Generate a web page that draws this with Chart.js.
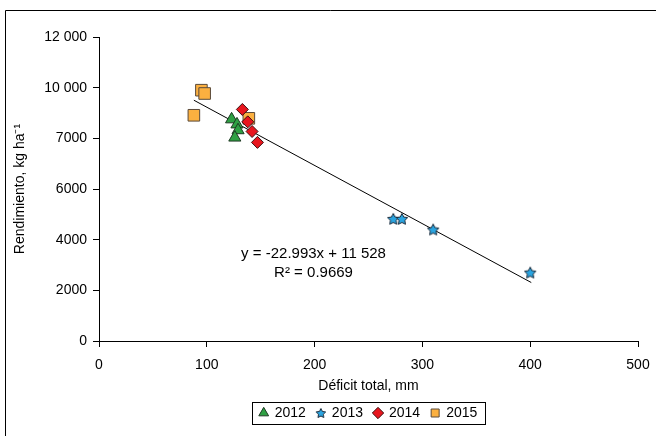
<!DOCTYPE html>
<html>
<head>
<meta charset="utf-8">
<script src="https://cdn.jsdelivr.net/npm/chart.js@4.4.1/dist/chart.umd.min.js"></script>
<style>
  html, body { margin: 0; padding: 0; background: #fff; }
  #wrap { width: 656px; height: 436px; }
</style>
</head>
<body>
<div id="wrap"><canvas id="chart" width="656" height="436"></canvas></div>
<script>
// Datos
const x2012 = [123, 128, 129, 126];
const y2012 = [8750, 8550, 8320, 8030];
const x2013 = [273, 281, 310, 400];
const y2013 = [4820, 4820, 4400, 2700];
const x2014 = [133, 138, 142, 147];
const y2014 = [9140, 8650, 8270, 7840];
const x2015 = [95, 98, 88, 139];
const y2015 = [9900, 9770, 8910, 8790];
const trendX = [88, 401];
const trendY = [9505, 2308];
const yTickLabels = ['0', '2000', '4000', '6000', '7000', '10 000', '12 000'];
const xTicks = [0, 100, 200, 300, 400, 500];

const toPts = (xs, ys) => xs.map((x, i) => ({ x: x, y: ys[i] }));

// estrella de 5 puntas
function makeStar(size, fill, stroke) {
    const c = document.createElement('canvas');
    c.width = size; c.height = size;
    const g = c.getContext('2d');
    const cx = size / 2, cy = size / 2 + 0.5;
    const R = size / 2 - 1, r = R * 0.5;
    g.beginPath();
    for (let i = 0; i < 10; i++) {
        const rad = (i % 2 === 0) ? R : r;
        const a = -Math.PI / 2 + i * Math.PI / 5;
        const px = cx + rad * Math.cos(a), py = cy + rad * Math.sin(a);
        if (i === 0) g.moveTo(px, py); else g.lineTo(px, py);
    }
    g.closePath();
    g.fillStyle = fill; g.fill();
    g.lineWidth = 1; g.strokeStyle = stroke; g.stroke();
    return c;
}
const starImg = makeStar(14, '#2aa4e0', '#1a2a3a');
const starSmall = makeStar(12, '#2aa4e0', '#1a2a3a');

const frame = {
    id: 'frame',
    afterDraw(chart) {
        const ctx = chart.ctx;
        ctx.save();
        ctx.strokeStyle = '#000';
        ctx.lineWidth = 1;
        ctx.beginPath();
        ctx.moveTo(5.5, 436); ctx.lineTo(5.5, 10.5); ctx.lineTo(656, 10.5);
        ctx.stroke();
        // caja de la leyenda
        const hb = chart.legend.legendHitBoxes;
        if (hb && hb.length) {
            let l = Infinity, r = -Infinity, t = Infinity, b = -Infinity;
            hb.forEach(h => {
                l = Math.min(l, h.left); r = Math.max(r, h.left + h.width);
                t = Math.min(t, h.top); b = Math.max(b, h.top + h.height);
            });
            const cy = (t + b) / 2;
            ctx.strokeRect(Math.round(l) - 7.5, Math.round(cy) - 10.5, Math.round(r - l) + 15, 22);
        }
        // ecuación
        const xs = chart.scales.x, ys = chart.scales.y;
        ctx.fillStyle = '#000';
        ctx.font = '15px "Liberation Sans", Arial, sans-serif';
        ctx.textAlign = 'center';
        ctx.textBaseline = 'middle';
        ctx.fillText('y = -22.993x + 11 528', xs.getPixelForValue(199), ys.getPixelForValue(3450));
        ctx.fillText('R² = 0.9669', xs.getPixelForValue(199), ys.getPixelForValue(2690));
        ctx.restore();
    }
};

const font = { family: '"Liberation Sans", Arial, sans-serif', size: 14 };

new Chart(document.getElementById('chart'), {
    type: 'scatter',
    data: {
        datasets: [
            { label: '2012', data: toPts(x2012, y2012), pointStyle: 'triangle', pointRadius: 7,
              backgroundColor: '#2ea043', borderColor: '#1d3a22', borderWidth: 1 },
            { label: '2013', data: toPts(x2013, y2013), pointStyle: starImg,
              backgroundColor: '#2aa4e0', borderColor: '#1a2a3a', borderWidth: 1 },
            { label: '2014', data: toPts(x2014, y2014), pointStyle: 'rectRot', pointRadius: 6,
              backgroundColor: '#e8161e', borderColor: '#3a1010', borderWidth: 1 },
            { label: '2015', data: toPts(x2015, y2015), pointStyle: 'rect', pointRadius: 8.2,
              backgroundColor: '#fbb040', borderColor: '#5a4a3a', borderWidth: 1 },
            { type: 'line', label: 'trend', data: toPts(trendX, trendY), showLine: true,
              borderColor: '#000', borderWidth: 1, pointRadius: 0, fill: false }
        ]
    },
    options: {
        responsive: false,
        animation: false,
        layout: { padding: { left: 0, right: 18, top: 37, bottom: 6 } },
        plugins: {
            tooltip: { enabled: false },
            legend: {
                position: 'bottom',
                fullSize: false,
                labels: {
                    usePointStyle: true,
                    boxWidth: 8,
                    boxHeight: 8,
                    padding: 11,
                    color: '#000',
                    font: font,
                    generateLabels: chart => Chart.defaults.plugins.legend.labels.generateLabels(chart)
                        .filter(it => it.text !== 'trend')
                        .map(it => { if (it.text === '2013') it.pointStyle = starSmall; return it; })
                }
            }
        },
        scales: {
            x: {
                type: 'linear', min: 0, max: 500,
                afterBuildTicks: s => { s.ticks = xTicks.map(v => ({ value: v })); },
                afterFit: s => { s.height = 54; s.paddingRight = 0; s.paddingLeft = 0; },
                border: { color: '#000', width: 1 },
                grid: { drawOnChartArea: false, color: '#000', tickLength: 6 },
                ticks: { color: '#000', font: font, padding: 10 },
                title: { display: true, text: 'Déficit total, mm', color: '#000', font: font, padding: { top: 0, bottom: 0 } }
            },
            y: {
                type: 'linear', min: 0, max: 12000,
                ticks: { stepSize: 2000, color: '#000', font: font, padding: 6,
                         callback: (v) => yTickLabels[Math.round(v / 2000)] },
                afterFit: s => { s.width = 99; },
                border: { color: '#000', width: 1 },
                grid: { drawOnChartArea: false, color: '#000', tickLength: 6 },
                title: { display: true, text: 'Rendimiento, kg ha⁻¹', color: '#000', font: font, padding: { top: 12, bottom: 0 } }
            }
        }
    },
    plugins: [frame]
});
</script>
</body>
</html>
